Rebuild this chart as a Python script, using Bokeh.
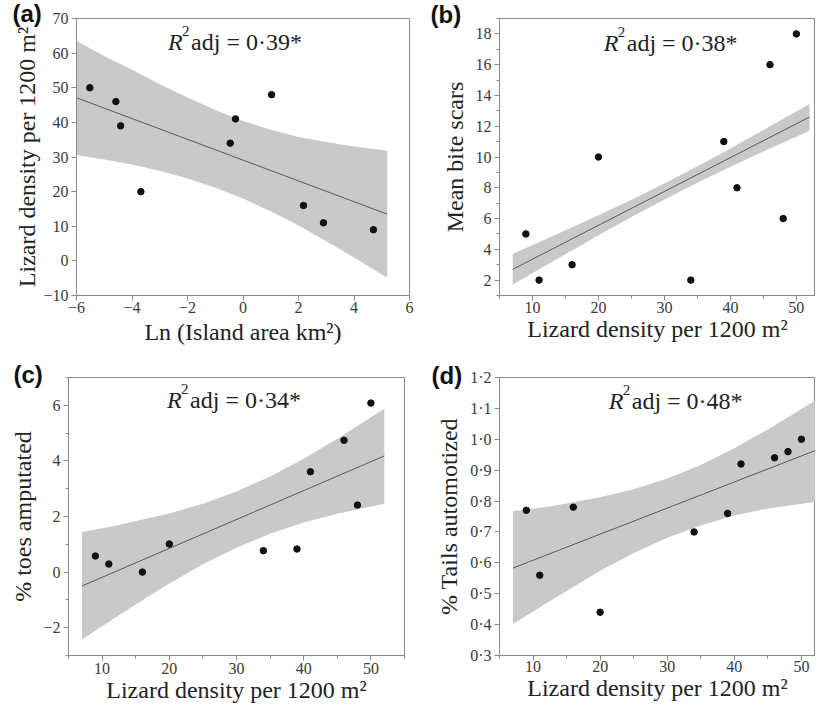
from bokeh.plotting import figure
from bokeh.models import Range1d, FixedTicker, Label, Title
from bokeh.layouts import row, column
from bokeh.embed import file_html
from bokeh.resources import INLINE

SERIF = "Liberation Serif"
SANS = "Liberation Sans"
GREY = "#8a8a8a"
BAND = "#c9c9c9"
FIT = "#5a5a5a"

# ---------------- data ----------------
# panel (a)
ln_area = [-5.52, -4.58, -4.41, -3.68, -0.46, -0.27, 1.03, 2.18, 2.90, 4.70]
a_density = [50, 46, 39, 20, 34, 41, 48, 16, 11, 9]
a_line_x = [-6.0, 5.2]
a_line_y = [47.1, 13.5]
a_band_x = [-6, -5, -4, -3, -2, -1, 0, 1, 2, 3, 4, 5.2]
a_band_hi = [63.5, 59.2, 55.2, 51.0, 47.2, 43.6, 40.4, 37.9, 35.8, 34.3, 33.0, 31.8]
a_band_lo = [30.6, 29.3, 27.8, 26.0, 23.8, 21.1, 18.0, 14.3, 10.2, 5.7, 1.0, -4.9]

# panels (b)-(d): lizard density per 1200 m2
density = [9, 11, 16, 20, 34, 39, 41, 46, 48, 50]
bite_scars = [5, 2, 3, 10, 2, 11, 8, 16, 6, 18]
toes_amputated = [0.58, 0.29, 0.0, 1.01, 0.77, 0.83, 3.61, 4.74, 2.41, 6.08]
tails_autotomized = [0.77, 0.56, 0.78, 0.44, 0.70, 0.76, 0.92, 0.94, 0.96, 1.00]

fit_x = [7, 52]
b_line_y = [2.70, 12.60]
c_line_y = [-0.50, 4.18]
d_line_y = [0.583, 0.963]

band_x = [7, 12, 16, 20, 25, 30, 35, 40, 45, 52]
b_band_hi = [3.70, 4.66, 5.43, 6.21, 7.22, 8.28, 9.40, 10.56, 11.76, 13.45]
b_band_lo = [1.70, 2.95, 3.93, 4.91, 6.10, 7.24, 8.33, 9.37, 10.36, 11.70]
c_band_hi = [1.44, 1.67, 1.89, 2.11, 2.46, 2.90, 3.44, 4.08, 4.80, 5.88]
c_band_lo = [-2.42, -1.63, -1.01, -0.41, 0.28, 0.88, 1.38, 1.78, 2.10, 2.46]
d_band_hi = [0.767, 0.781, 0.796, 0.812, 0.838, 0.873, 0.917, 0.971, 1.032, 1.125]
d_band_lo = [0.402, 0.469, 0.522, 0.574, 0.632, 0.681, 0.721, 0.753, 0.776, 0.797]

r2_values = ["0·39*", "0·38*", "0·34*", "0·48*"]
panel_tags = ["(a)", "(b)", "(c)", "(d)"]

# ticks
a_xticks = [-6, -4, -2, 0, 2, 4, 6]
a_xlabels = ["−6", "−4", "−2", "0", "2", "4", "6"]
a_yticks = [-10, 0, 10, 20, 30, 40, 50, 60, 70]
a_ylabels = ["−10", "0", "10", "20", "30", "40", "50", "60", "70"]
dens_ticks = [10, 20, 30, 40, 50]
dens_minor = [5, 15, 25, 35, 45, 55]
b_yticks = [2, 4, 6, 8, 10, 12, 14, 16, 18]
b_yminor = [1, 3, 5, 7, 9, 11, 13, 15, 17, 19]
c_yticks = [-2, 0, 2, 4, 6]
c_ylabels = ["−2", "0", "2", "4", "6"]
c_yminor = [-3, -1, 1, 3, 5, 7]
d_yticks = [0.3, 0.4, 0.5, 0.6, 0.7, 0.8, 0.9, 1.0, 1.1, 1.2]
d_ylabels = ["0·3", "0·4", "0·5", "0·6", "0·7", "0·8", "0·9", "1·0", "1·1", "1·2"]


def make_panel(width, height, xr, yr, bl, br, bt, bb, xlabel, ylabel,
               y_label_standoff=0, x_label_standoff=0, x_tick_standoff=1):
    p = figure(width=width, height=height, title=None,
               x_range=Range1d(*xr), y_range=Range1d(*yr),
               output_backend="svg", toolbar_location=None,
               min_border_left=bl, min_border_right=br,
               min_border_top=bt, min_border_bottom=bb)
    p.grid.visible = False
    p.outline_line_color = GREY
    p.outline_line_width = 1
    p.background_fill_color = "white"
    p.border_fill_color = "white"
    for ax in (p.xaxis[0], p.yaxis[0]):
        ax.axis_line_color = GREY
        ax.major_tick_line_color = GREY
        ax.minor_tick_line_color = GREY
        ax.major_tick_in = 0
        ax.major_tick_out = 5
        ax.minor_tick_in = 0
        ax.minor_tick_out = 3
        ax.major_label_text_font = SERIF
        ax.major_label_text_font_size = "16px"
        ax.major_label_text_color = "#3a3a3a"
        ax.axis_label_text_font = SERIF
        ax.axis_label_text_font_size = "24px"
        ax.axis_label_text_font_style = "normal"
        ax.axis_label_text_color = "#222222"
    p.xaxis[0].axis_label = xlabel
    p.yaxis[0].axis_label = ylabel
    p.xaxis[0].major_label_standoff = x_tick_standoff
    p.yaxis[0].major_label_standoff = 3
    p.xaxis[0].axis_label_standoff = x_label_standoff
    p.yaxis[0].axis_label_standoff = y_label_standoff
    return p


def set_ticks(axis, ticks, labels=None, minor=None):
    axis.ticker = FixedTicker(ticks=ticks, minor_ticks=minor or [])
    if labels is not None:
        axis.major_label_overrides = {t: s for t, s in zip(ticks, labels)}


def add_r2(p, x, y, val):
    common = dict(x=x, y=y, text_font=SERIF, text_color="#222222",
                  text_baseline="alphabetic", text_align="left")
    p.add_layout(Label(text="R", text_font_style="italic",
                       text_font_size="24px", **common))
    p.add_layout(Label(text="2", x_offset=14, y_offset=11,
                       text_font_size="15px", **common))
    p.add_layout(Label(text="adj = " + val, x_offset=23,
                       text_font_size="24px", **common))


def add_tag(p, tag, offset, standoff):
    t = Title(text=tag, align="left", offset=offset, standoff=standoff,
              text_font=SANS, text_font_style="bold", text_font_size="24px",
              text_color="#111111", vertical_align="bottom")
    p.add_layout(t, "above")


def draw(p, bx, lo, hi, lx, ly, px, py):
    p.varea(x=bx, y1=lo, y2=hi, fill_color=BAND, fill_alpha=1.0)
    p.line(lx, ly, line_color=FIT, line_width=1)
    p.scatter(px, py, size=6.5, color="#111111")


XLAB = "Lizard density per 1200 m²"

# ---- (a) ----
pa = make_panel(420, 349, (-6, 6), (-10, 70), 76, 11, 17, 54,
                "Ln (Island area km²)", XLAB, x_label_standoff=3)
set_ticks(pa.xaxis[0], a_xticks, a_xlabels)
set_ticks(pa.yaxis[0], a_yticks, a_ylabels)
draw(pa, a_band_x, a_band_lo, a_band_hi, a_line_x, a_line_y, ln_area, a_density)
add_r2(pa, -2.70, 63.2, r2_values[0])
add_tag(pa, panel_tags[0], -64, -17)

# ---- (b) ----
pb = make_panel(395, 349, (5, 52.9), (1, 19), 79, 0, 18, 51,
                XLAB, "Mean bite scars", y_label_standoff=5)
set_ticks(pb.xaxis[0], dens_ticks, None, dens_minor)
set_ticks(pb.yaxis[0], b_yticks, None, b_yminor)
draw(pb, band_x, b_band_lo, b_band_hi, fit_x, b_line_y, density, bite_scars)
add_r2(pb, 20.8, 17.42, r2_values[1])
add_tag(pb, panel_tags[1], -69, -18)

# ---- (c) ----
pc = make_panel(420, 356, (5, 55), (-3, 7), 68, 16, 28, 50,
                XLAB, "% toes amputated", y_label_standoff=4, x_tick_standoff=2)
set_ticks(pc.xaxis[0], dens_ticks, None, dens_minor)
set_ticks(pc.yaxis[0], c_yticks, c_ylabels, c_yminor)
draw(pc, band_x, c_band_lo, c_band_hi, fit_x, c_line_y, density, toes_amputated)
add_r2(pc, 19.67, 6.2, r2_values[2])
add_tag(pc, panel_tags[2], -55, -21)

# ---- (d) ----
pd_ = make_panel(395, 356, (5, 52.1), (0.3, 1.2), 79, 0, 27, 49,
                 XLAB, "% Tails automotized", y_label_standoff=5, x_tick_standoff=0)
set_ticks(pd_.xaxis[0], dens_ticks, None, dens_minor)
set_ticks(pd_.yaxis[0], d_yticks, d_ylabels)
draw(pd_, band_x, d_band_lo, d_band_hi, fit_x, d_line_y, density, tails_autotomized)
add_r2(pd_, 21.28, 1.123, r2_values[3])
add_tag(pd_, panel_tags[3], -68, -22)

layout = column(row(pa, pb), row(pc, pd_))
open("out.html", "w").write(file_html(layout, INLINE))
